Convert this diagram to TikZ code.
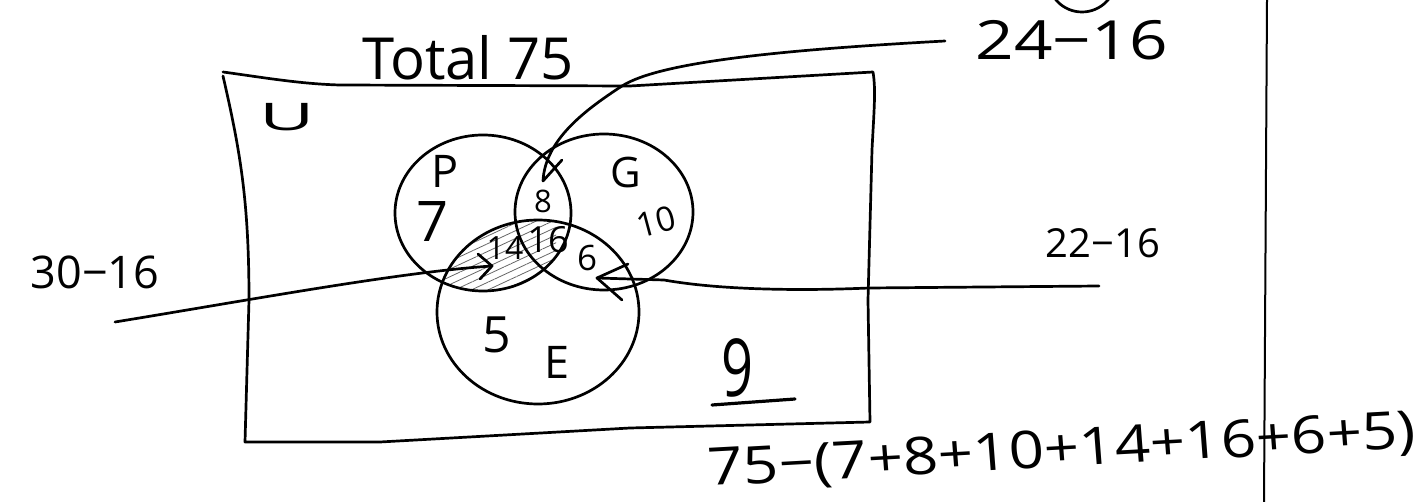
\documentclass[tikz,border=0pt]{standalone}
\usepackage{fontspec}
\setmainfont{Open Sans}
\usetikzlibrary{patterns.meta}
\begin{document}
\begin{tikzpicture}[x=1pt,y=-1pt,
  ink/.style={line width=2.7pt, line cap=round, line join=round, black},
  lbl/.style={inner sep=0pt, font=\fontsize{#1}{#1}\selectfont},
]
\useasboundingbox (0,0) rectangle (1417,502);
\clip (0,0) rectangle (1417,502);

% universe box
\draw[ink] (223,72) .. controls (260,77) and (300,84) .. (340,85) -- (630,86) -- (873,72)
  .. controls (876,90) and (874,110) .. (872,150) -- (868,300) -- (870,422)
  -- (630,428) -- (380,442) -- (245,442) -- (249,300)
  .. controls (249,200) and (240,150) .. (223,76);

% hatched P and E overlap
\begin{scope}
  \clip (483,213) ellipse [x radius=88, y radius=78];
  \clip (538,312) ellipse [x radius=101, y radius=92];
  \fill[pattern={Lines[angle=25,distance=7pt,line width=0.8pt]}, pattern color=black!60]
    (440,215) rectangle (556,300);
\end{scope}

% sets
\draw[ink] (483,213) ellipse [x radius=88, y radius=78];
\draw[ink] (604,212) ellipse [x radius=89, y radius=78];
\draw[ink] (538,312) ellipse [x radius=101, y radius=92];

% labels
\node[lbl=58] (total) at (468,58) {Total 75};
\node[lbl=38, xscale=2] (U) at (287,117) {U};
\node[lbl=45] (P) at (445,171) {P};
\node[lbl=56] (n7) at (433,222) {7};
\node[lbl=31] (n8) at (543,201) {8};
\node[lbl=42] (G) at (626,173) {G};
\node[lbl=34, rotate=15] (n10) at (656,222) {10};
\node[lbl=32] (n14) at (505,248) {14};
\node[lbl=36] (n16) at (548,240) {16};
\node[lbl=35] (n6) at (587,258) {6};
\node[lbl=50] (n5) at (497,335) {5};
\node[lbl=45] (E) at (557,362) {E};
\node[lbl=80, xscale=0.7] (n9) at (738,368) {9};
\node[lbl=54, xscale=1.25] (n24) at (1072,40) {24−16};
\node[lbl=40] (n22) at (1103,243) {22−16};
\node[lbl=45] (n30) at (95,272) {30−16};
\node[lbl=52, xscale=1.19, rotate=3.7] (sum) at (1062,452) {75−(7+8+10+14+16+6+5)};

% underline of 9
\coordinate (u9a) at (712,405);
\coordinate (u9b) at (795,399);
\draw[ink, line width=3.2pt] (u9a) -- (u9b);

% arrow from 24-16
\coordinate (s24) at (945,41);
\coordinate (t8) at (543,181);
\draw[ink] (s24) .. controls (780,50) and (660,62) .. (622,86)
  .. controls (585,110) and (545,140) .. (t8) -- (562,160);

% arrow from 22-16
\coordinate (s22) at (1099,286);
\coordinate (t6) at (597,278);
\draw[ink] (s22) -- (869,288) .. controls (800,291) and (720,290) .. (664,280) -- (t6);
\draw[ink] (628,264) -- (t6) -- (622,300);

% arrow from 30-16
\coordinate (s30) at (115,322);
\coordinate (t14) at (492,266);
\draw[ink] (s30) .. controls (250,300) and (400,272) .. (t14);
\draw[ink] (478,254) -- (t14) -- (480,279);

% page divider and top circle
\coordinate (vtop) at (1267,0);
\coordinate (vbot) at (1264,502);
\draw[ink, line width=2pt] (vtop) -- (vbot);
\draw[ink] (1082,-22) circle [radius=34];
\end{tikzpicture}
\end{document}
